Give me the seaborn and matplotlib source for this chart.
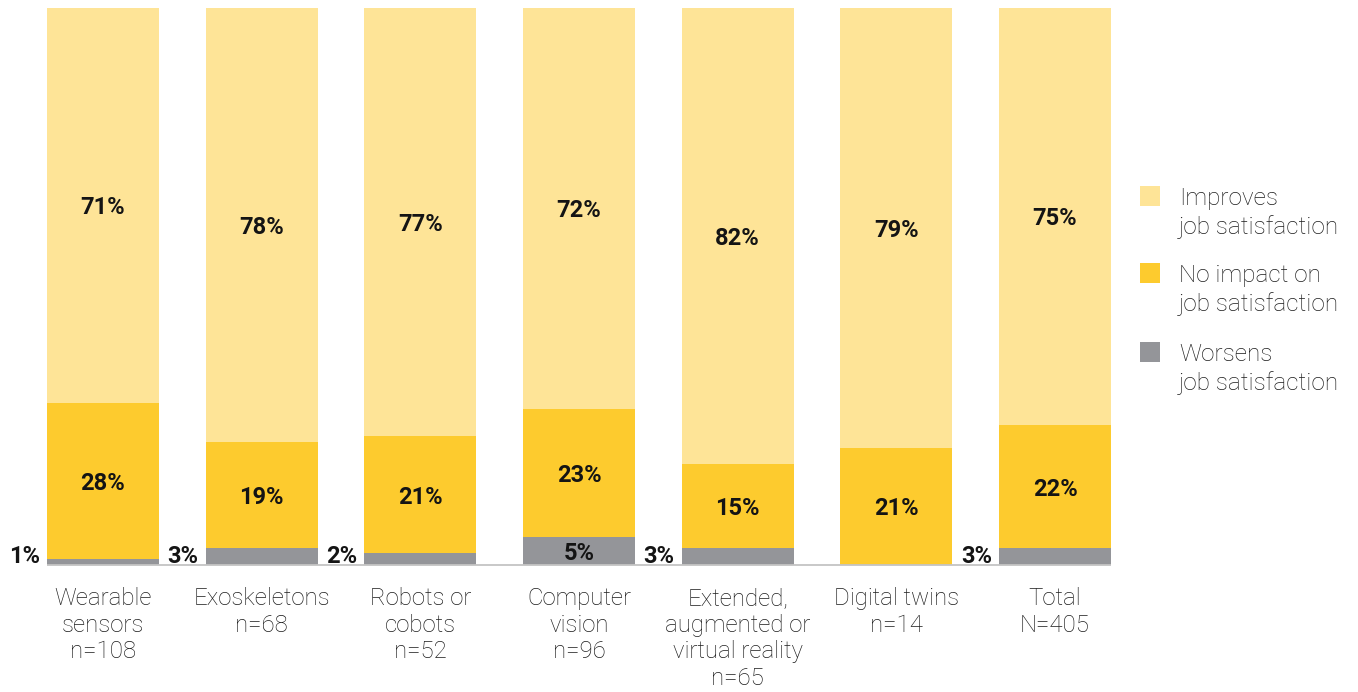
import matplotlib
matplotlib.use("Agg")
import matplotlib.pyplot as plt
from matplotlib.patches import Rectangle
import seaborn as sns
import pandas as pd
import numpy as np

# Share of respondents by technology (percent)
categories = [
    "Wearable\nsensors\nn=108",
    "Exoskeletons\nn=68",
    "Robots or\ncobots\nn=52",
    "Computer\nvision\nn=96",
    "Extended,\naugmented or\nvirtual reality\nn=65",
    "Digital twins\nn=14",
    "Total\nN=405",
]
worsens = [1, 3, 2, 5, 3, 0, 3]
no_impact = [28, 19, 21, 23, 15, 21, 22]
improves = [71, 78, 77, 72, 82, 79, 75]
series_names = [
    "Improves\njob satisfaction",
    "No impact on\njob satisfaction",
    "Worsens\njob satisfaction",
]

C_IMPROVES = "#FEE497"
C_NOIMPACT = "#FDCB2E"
C_WORSENS = "#949599"
TEXT_DARK = "#141414"
TEXT_CAT = "#1c1c1c"

sns.set_theme(style="white")
plt.rcParams["font.family"] = ["Roboto", "DejaVu Sans"]

df = pd.DataFrame({
    "category": categories,
    "worsens": worsens,
    "no_impact": no_impact,
    "improves": improves,
})
df["low"] = df["worsens"]
df["mid"] = df["low"] + df["no_impact"]
df["top"] = df["mid"] + df["improves"]

W, H = 1358, 692
fig = plt.figure(figsize=(W / 100, H / 100), dpi=100)
step = 158.67
bar_w = 112 / step
left_px = 103 - step / 2
base_px, top_px = 564.5, 7.5
ax = fig.add_axes([left_px / W, (H - base_px) / H, 7 * step / W, (base_px - top_px) / H])

# Stacked bars: draw cumulative totals from the top layer down
for col, colr in [("top", C_IMPROVES), ("mid", C_NOIMPACT), ("low", C_WORSENS)]:
    sns.barplot(data=df, x="category", y=col, color=colr, saturation=1,
                width=bar_w, errorbar=None, linewidth=0, ax=ax)

ax.set_xlim(-0.5, 6.5)
ax.set_ylim(0, 100)
for s in ax.spines.values():
    s.set_visible(False)
ax.set_yticks([])
ax.set_xlabel("")
ax.set_ylabel("")
ax.set_xticks(range(len(categories)))
ax.set_xticklabels(categories, fontsize=17.3, fontweight="light", color=TEXT_CAT,
                   linespacing=1.215)
ax.tick_params(axis="x", length=0, pad=16)

# Baseline across the bars
ax.hlines(0, -bar_w / 2, len(categories) - 1 + bar_w / 2, color="#c4c4c4",
          lw=1.3, zorder=4, clip_on=False)

LAB_SIZE = 17
lab_kw = dict(fontsize=LAB_SIZE, fontweight="bold", color=TEXT_DARK, ha="center",
              va="center_baseline", zorder=5)
for i, row in df.iterrows():
    ax.text(i, row["mid"] + row["improves"] / 2, f"{row['improves']}%", **lab_kw)
    ax.text(i, row["low"] + row["no_impact"] / 2, f"{row['no_impact']}%", **lab_kw)
    if row["worsens"] >= 5:
        ax.text(i, row["worsens"] / 2, f"{row['worsens']}%", **lab_kw)
    elif row["worsens"] > 0:
        ax.annotate(f"{row['worsens']}%", xy=(i - bar_w / 2, 0), xytext=(-5, 1),
                    textcoords="offset points", ha="right", va="baseline",
                    fontsize=LAB_SIZE, fontweight="bold", color=TEXT_DARK,
                    annotation_clip=False)

# Legend on the right
legend_rows = [(186, C_IMPROVES), (263, C_NOIMPACT), (342, C_WORSENS)]
for (y_px, colr), name in zip(legend_rows, series_names):
    fig.add_artist(Rectangle((1140 / W, 1 - (y_px + 20) / H), 20 / W, 20 / H,
                             transform=fig.transFigure, facecolor=colr,
                             edgecolor="none"))
    fig.text(1179 / W, 1 - (y_px + 1) / H, name, ha="left", va="top",
             fontsize=17.5, fontweight="light", color=TEXT_CAT, linespacing=1.26)

fig.savefig("out.png", dpi=100)
